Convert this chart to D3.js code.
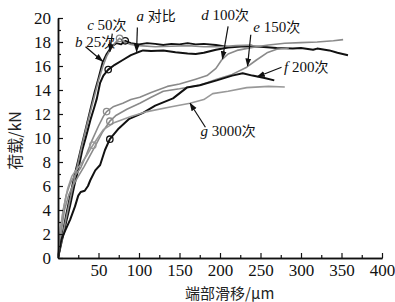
<!DOCTYPE html>
<html>
<head>
<meta charset="utf-8">
<script src="https://cdn.jsdelivr.net/npm/d3@7"></script>
<style>
	body { margin: 0; background: #fff; }
	svg { display: block; }
</style>
</head>
<body>
<div id="divChart"></div>
<script>
'use strict';

const canvasWidth = 395;
const canvasHeight = 302;
const serifFont = '"Liberation Serif", "Times New Roman", "DejaVu Serif", serif';
const cjkFont = '"Noto Sans CJK SC", "Noto Sans", sans-serif';

// slip (um), load (kN) pairs
const curveA = [[0,0],[5,1.5],[10,3],[15,4.4],[20,6],[25,7.4],[30,9],[35,10.2],[40,11.5],[45,12.6],[48,13.3],[52,14.6],[56,15.2],[62,15.7],[70,16.1],[80,16.5],[90,16.9],[97,17.1],[105,17.3],[115,17.25],[130,17.3],[145,17.15],[160,17.05],[170,17.0],[180,17.1],[195,17.35],[210,17.55],[230,17.65],[250,17.6],[270,17.5],[290,17.45],[300,17.5],[315,17.35],[320,17.45],[335,17.3],[345,17.1],[358,16.9]];
const curveB = [[0,0],[5,1.8],[10,3.6],[15,5.2],[20,6.8],[25,8.2],[30,9.6],[35,11],[40,12.4],[45,13.8],[50,15],[55,16.3],[60,17.0],[66,17.6],[72,17.9],[78,17.8],[83,18.1],[90,17.9],[100,17.8],[110,17.9],[120,17.85],[130,17.75],[140,17.85],[150,17.8],[160,17.9],[170,17.8],[180,17.85],[195,17.75],[210,17.6]];
const curveC = [[0,0],[5,1.6],[10,3.3],[15,4.9],[20,6.5],[25,8.0],[30,9.5],[35,10.9],[40,12.2],[45,13.5],[50,14.8],[55,15.9],[60,16.8],[65,17.4],[70,17.9],[76,18.3],[82,18.0],[90,17.8],[100,17.7],[120,17.6],[140,17.65],[160,17.7],[180,17.6],[200,17.6],[220,17.7],[240,17.75]];
const curveD = [[0,0],[3,2],[6,3.8],[10,5.2],[15,6.2],[20,6.8],[28,7.5],[35,8.6],[42,9.8],[50,11],[56,11.8],[60,12.2],[68,12.6],[80,12.9],[90,13.2],[101,13.4],[115,13.8],[135,14.3],[150,14.5],[170,14.9],[184,15.2],[195,15.8],[202,16.5],[210,17.0],[221,17.3],[240,17.55],[260,17.75],[280,17.9],[300,17.95],[320,18.0],[340,18.1],[352,18.2]];
const curveE = [[0,0],[4,2.2],[8,4],[13,5.2],[18,6.0],[25,6.8],[32,7.6],[40,8.6],[48,9.6],[55,10.5],[64,11.4],[72,11.9],[85,12.4],[101,12.9],[115,13.4],[130,13.9],[150,14.1],[175,14.4],[196,14.9],[215,15.3],[233,15.9],[245,16.5],[258,17.1],[270,17.4],[285,17.5]];
const curveF = [[0,0],[4,1.5],[9,2.3],[15,3.2],[21,4.3],[25,5.2],[28,5.5],[33,5.6],[37,6.0],[40,6.5],[46,7.3],[52,7.75],[58,9.0],[64,9.9],[75,10.8],[88,11.6],[105,12.1],[120,12.7],[142,13.3],[159,14.2],[175,14.4],[196,14.8],[215,15.2],[228,15.4],[240,15.2],[255,15.0],[267,14.8]];
const curveG = [[0,0],[3,2.5],[7,4.2],[12,5.8],[17,6.8],[22,7.3],[28,7.8],[35,8.5],[43,9.4],[50,10.1],[56,10.7],[70,11.3],[90,11.8],[110,12.2],[140,12.6],[163,12.9],[180,13.2],[191,13.7],[210,13.9],[233,14.2],[260,14.3],[280,14.25]];

const curveColors = ['#111', '#111', '#8a8a8a', '#8a8a8a', '#8a8a8a', '#111', '#999'];
const curveWidths = [2, 1.8, 1.6, 1.6, 1.6, 2, 1.6];
const curveData = [curveA, curveB, curveC, curveD, curveE, curveF, curveG];
// marked points (circles) on each curve
const markerPoints = [[62,15.7],[83,18.1],[76,18.3],[60,12.2],[64,11.4],[64,9.9],[43,9.4]];

const xTicks = [50, 100, 150, 200, 250, 300, 350, 400];
const yTicks = [0, 2, 4, 6, 8, 10, 12, 14, 16, 18, 20];

// label text, arrow from / to in data units
const labelItalic = ['a', 'b', 'c', 'd', 'e', 'f', 'g'];
const labelNumber = ['', '25', '50', '100', '150', '200', '3000'];
const labelChinese = ['对比', '次', '次', '次', '次', '次', '次'];
const labelAnchor = [[97,19.75],[21,17.55],[36,19.0],[177,19.8],[241,18.8],[279,15.5],[176,10.2]];
const arrowFrom = [[98,19.2],[34,17.6],[67,18.7],[210,19.3],[238,18.6],[276,15.9],[182,10.9]];
const arrowTo = [[97,17.2],[55,16.4],[64,17.2],[203,16.6],[234,16.0],[246,15.1],[163,12.9]];

const x = d3.scaleLinear().domain([0, 400]).range([58, 382]);
const y = d3.scaleLinear().domain([0, 20]).range([258, 18]);

const svg = d3.select('#divChart')
	.append('svg')
	.attr('width', canvasWidth)
	.attr('height', canvasHeight);

svg.append('defs').append('marker')
	.attr('id', 'arrowHead')
	.attr('viewBox', '0 0 10 10')
	.attr('refX', 9)
	.attr('refY', 5)
	.attr('markerWidth', 7)
	.attr('markerHeight', 7)
	.attr('orient', 'auto')
	.append('path')
	.attr('d', 'M0,1.5L10,5L0,8.5z')
	.attr('fill', '#111');

// curves
const line = d3.line()
	.x(d => x(d[0]))
	.y(d => y(d[1]));

for (let i = 0; i < curveData.length; i++) {
	svg.append('path')
		.attr('d', line(curveData[i]))
		.attr('fill', 'none')
		.attr('stroke', curveColors[i])
		.attr('stroke-width', curveWidths[i])
		.attr('stroke-linejoin', 'round');
}
for (let i = 0; i < markerPoints.length; i++) {
	svg.append('circle')
		.attr('cx', x(markerPoints[i][0]))
		.attr('cy', y(markerPoints[i][1]))
		.attr('r', 3.2)
		.attr('fill', 'none')
		.attr('stroke', curveColors[i])
		.attr('stroke-width', 1.3);
}

// axes
const xAxis = svg.append('g')
	.attr('transform', `translate(0,${y(0)})`)
	.call(d3.axisBottom(x).tickValues(xTicks).tickSizeInner(-5).tickSizeOuter(0).tickPadding(6));
const xMinor = svg.append('g')
	.attr('transform', `translate(0,${y(0)})`)
	.call(d3.axisBottom(x).tickValues(d3.range(25, 400, 50)).tickSizeInner(-3).tickSizeOuter(0).tickFormat(''));
const yAxis = svg.append('g')
	.attr('transform', `translate(${x(0)},0)`)
	.call(d3.axisLeft(y).tickValues(yTicks).tickSizeInner(-5).tickSizeOuter(0).tickPadding(7));
const yMinor = svg.append('g')
	.attr('transform', `translate(${x(0)},0)`)
	.call(d3.axisLeft(y).tickValues(d3.range(1, 20, 2)).tickSizeInner(-3).tickSizeOuter(0).tickFormat(''));

for (const axis of [xAxis, xMinor, yAxis, yMinor]) {
	axis.attr('font-family', serifFont).attr('font-size', 17);
	axis.select('.domain').attr('stroke', '#111').attr('stroke-width', 1.5);
	axis.selectAll('.tick line').attr('stroke', '#111').attr('stroke-width', 1.2);
	axis.selectAll('.tick text').attr('fill', '#111');
}

svg.append('text')
	.attr('transform', `translate(21,${y(9.8)}) rotate(-90)`)
	.attr('text-anchor', 'middle')
	.attr('font-family', cjkFont)
	.attr('font-size', 16)
	.attr('fill', '#222')
	.text('荷载/kN');

svg.append('text')
	.attr('x', x(212))
	.attr('y', 299)
	.attr('text-anchor', 'middle')
	.attr('font-family', cjkFont)
	.attr('font-size', 15)
	.attr('fill', '#222')
	.text('端部滑移/μm');

// curve labels with arrows
for (let i = 0; i < labelItalic.length; i++) {
	svg.append('line')
		.attr('x1', x(arrowFrom[i][0]))
		.attr('y1', y(arrowFrom[i][1]))
		.attr('x2', x(arrowTo[i][0]))
		.attr('y2', y(arrowTo[i][1]))
		.attr('stroke', '#111')
		.attr('stroke-width', 1.2)
		.attr('marker-end', 'url(#arrowHead)');
	const label = svg.append('text')
		.attr('x', x(labelAnchor[i][0]))
		.attr('y', y(labelAnchor[i][1]))
		.attr('fill', '#111')
		.attr('font-size', 15);
	label.append('tspan')
		.attr('font-family', serifFont)
		.attr('font-style', 'italic')
		.text(labelItalic[i] + ' ');
	if (labelNumber[i] != '') {
		label.append('tspan')
			.attr('font-family', serifFont)
			.text(labelNumber[i]);
	}
	label.append('tspan')
		.attr('font-family', cjkFont)
		.attr('font-size', 14)
		.text(labelChinese[i]);
}
</script>
</body>
</html>
